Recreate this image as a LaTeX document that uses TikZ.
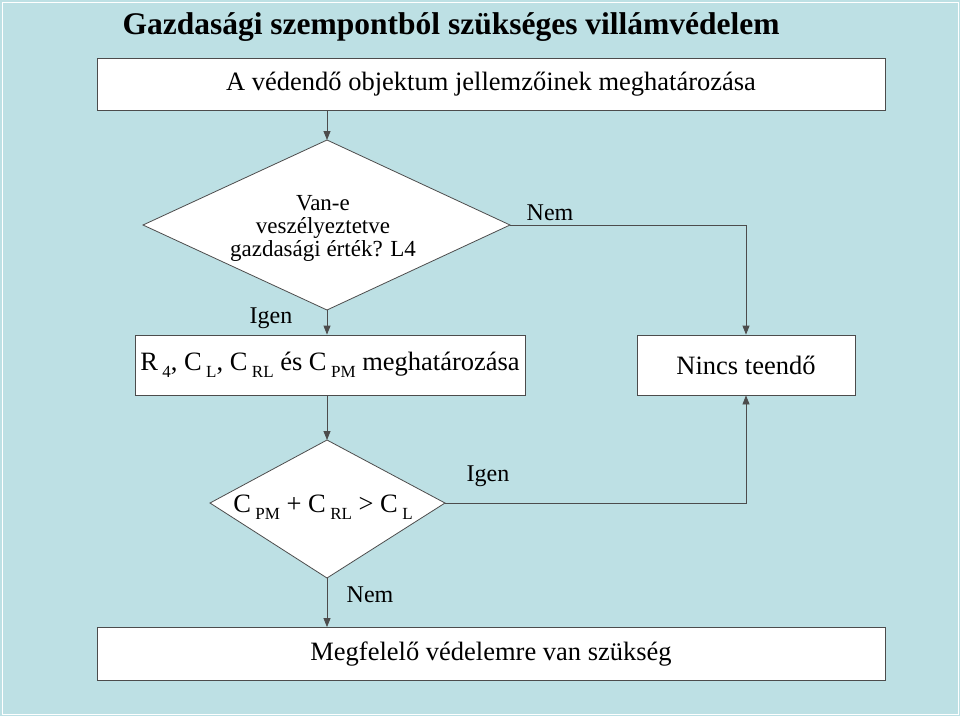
\documentclass[tikz,border=0pt]{standalone}
\usepackage{fontspec}
\setmainfont{Liberation Serif}
\usetikzlibrary{arrows.meta}
\definecolor{bg}{HTML}{BDE0E4}
\newcommand{\sbs}[1]{\,\raisebox{-0.6ex}{\fontsize{17}{18}\selectfont #1}}
\tikzset{box/.style={draw=black!70,fill=white,line width=0.8pt,inner sep=0pt},
 arr/.style={draw=black!70,line width=0.8pt,-{Triangle[length=9pt,width=7pt]}},
 lbl/.style={font=\fontsize{24}{26}\selectfont}}
\begin{document}
\begin{tikzpicture}[x=1pt,y=-1pt]
\fill[bg] (0,0) rectangle (960,716);
\draw[white,line width=1pt] (2,2) rectangle (958,714);
\node[anchor=west,font=\bfseries\fontsize{31.5}{34}\selectfont] (title) at (119,27) {Gazdasági szempontból szükséges villámvédelem};
\node[box,minimum width=788,minimum height=52,font=\fontsize{26.5}{28}\selectfont] (b1) at (491,84) {A védendő objektum jellemzőinek meghatározása};
\coordinate (d1t) at (327,140); \coordinate (d1r) at (510,225);
\coordinate (d1b) at (327,310); \coordinate (d1l) at (143,225);
\draw[fill=white,draw=black!70,line width=0.8pt] (d1t)--(d1r)--(d1b)--(d1l)--cycle;
\node[align=center,font=\fontsize{23}{23}\selectfont] (d1) at (323,228) {Van-e\\veszélyeztetve\\gazdasági érték? L4};
\node[box,minimum width=390,minimum height=60,font=\fontsize{26.5}{28}\selectfont] (b2) at (330,365) {R\sbs{4}, C\sbs{L}, C\sbs{RL} és C\sbs{PM} meghatározása};
\node[box,minimum width=218,minimum height=60,font=\fontsize{26.5}{28}\selectfont] (b3) at (746,365) {Nincs teendő};
\coordinate (d2t) at (327,440); \coordinate (d2r) at (445,503);
\coordinate (d2b) at (327,578); \coordinate (d2l) at (210,503);
\draw[fill=white,draw=black!70,line width=0.8pt] (d2t)--(d2r)--(d2b)--(d2l)--cycle;
\node[font=\fontsize{26.5}{28}\selectfont] (d2) at (323,507) {C\sbs{PM} + C\sbs{RL} > C\sbs{L}};
\node[box,minimum width=788,minimum height=53,font=\fontsize{26.5}{28}\selectfont] (b4) at (491,654) {Megfelelő védelemre van szükség};
\draw[arr] (b1.south -| d1t) -- (d1t);
\draw[arr] (d1b) -- (b2.north -| d1b);
\draw[arr] (d1r) -- (b3.north |- d1r) -- (b3.north);
\draw[arr] (b2.south -| d2t) -- (d2t);
\draw[arr] (d2r) -- (b3.south |- d2r) -- (b3.south);
\draw[arr] (d2b) -- (b4.north -| d2b);
\node[lbl] (l1) at (271,318) {Igen};
\node[lbl] (l2) at (550,213) {Nem};
\node[lbl] (l3) at (488,476) {Igen};
\node[lbl] (l4) at (370,595) {Nem};
\end{tikzpicture}
\end{document}
